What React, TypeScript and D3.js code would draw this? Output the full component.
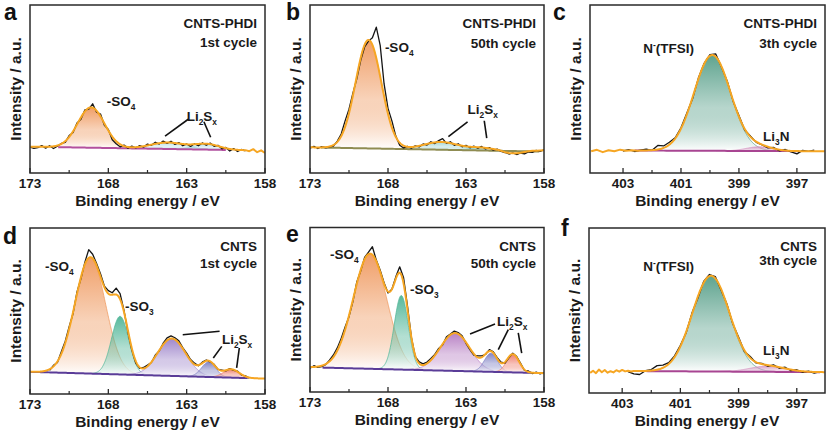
import React from "react";
import * as d3 from "d3";

// ---------------- axes / text ----------------
const sulfurDomain = [173, 158];
const nitrogenDomain = [404.14, 396.03];
const sulfurTicks = [173, 168, 163, 158];
const sulfurMinorTicks = [170.5, 165.5, 160.5];
const nitrogenTicks = [403, 401, 399, 397];
const nitrogenMinorTicks = [402, 400, 398];
const xAxisTitle = "Binding energy / eV";
const yAxisTitle = "Intensity / a.u.";
const panelLetters = ["a", "b", "c", "d", "e", "f"];
const sampleNames = ["CNTS-PHDI", "CNTS-PHDI", "CNTS-PHDI", "CNTS", "CNTS", "CNTS"];
const cycleNames = ["1st cycle", "50th cycle", "3th cycle", "1st cycle", "50th cycle", "3th cycle"];

// ---------------- panel a : CNTS-PHDI S 2p, 1st cycle ----------------
const rawStartA = 173;
const rawStepA = 0.25;
const rawA = [15.4, 14.7, 15.1, 16.3, 14.8, 16.2, 14.6, 15.9, 17.6, 18.2, 22.3, 24.1, 29.8, 32.0, 37.5, 38.0, 41.2, 36.2, 35.1, 28.4, 25.9, 19.8, 17.4, 15.6, 16.6, 14.8, 16.0, 14.9, 16.3, 15.4, 17.2, 16.5, 18.3, 17.2, 19.0, 17.6, 18.9, 17.0, 18.1, 16.2, 17.3, 15.8, 17.4, 16.2, 17.9, 16.5, 17.8, 15.9, 16.5, 14.4, 15.2, 13.1, 14.5, 12.8, 14.0, 13.2];
const fitCentersA = [169.1, 164.2, 161.7];
const fitHeightsA = [24, 3.8, 3.2];
const fitSigmasA = [0.85, 1.1, 0.8];
const backgroundA = [[172.0, 15.5], [159.0, 13.5]];
const fitTailStartA = 159.25;
const fitTailA = [13.6, 13.0, 14.2, 12.4, 13.5, 11.9];
const labelsA = [{ text: "-SO_4", e: 168.1, v: 39.9 }, { text: "Li_2S_x", e: 163.0, v: 31.0 }];
const leadersA = [[164.38, 22.0, 162.9, 32.0], [161.9, 30.5, 161.47, 21.25]];

// ---------------- panel b : CNTS-PHDI S 2p, 50th cycle ----------------
const rawStartB = 173;
const rawStepB = 0.25;
const rawB = [14.8, 15.9, 14.6, 15.7, 14.9, 15.6, 16.0, 19.0, 23.2, 31.0, 38.0, 47.5, 56.0, 67.0, 75.0, 78.5, 80.5, 86.8, 76.0, 53.0, 38.5, 31.0, 22.0, 16.5, 14.9, 15.8, 14.8, 16.2, 15.5, 17.3, 16.6, 18.6, 17.5, 19.3, 20.5, 17.6, 18.6, 16.5, 17.4, 15.6, 16.5, 15.0, 16.0, 14.7, 15.8, 14.3, 15.1, 13.6, 14.2, 12.9, 12.2, 11.3, 12.0, 11.0, 11.9, 11.4, 12.6, 12.3, 13.5, 12.9, 13.8];
const fitCentersB = [169.25, 164.6, 162.0];
const fitHeightsB = [64.5, 4.6, 1.5];
const fitSigmasB = [0.83, 1.1, 0.8];
const backgroundB = [[172.5, 15.2], [158.5, 12.8]];
const fitTailStartB = 161.25;
const fitTailB = [14.3, 13.9, 13.2, 12.4, 11.9, 11.7, 11.8, 12.1, 12.5, 12.9, 13.2, 13.3, 13.4, 13.5];
const labelsB = [{ text: "-SO_4", e: 168.2, v: 72.0 }, { text: "Li_2S_x", e: 162.9, v: 35.1 }];
const leadersB = [[164.13, 21.6, 162.9, 30.5], [161.83, 31.1, 161.67, 20.7]];

// ---------------- panel c : CNTS-PHDI N 1s ----------------
const rawStartC = 403.0;
const rawStepC = 0.2;
const rawC = [13.1, 13.9, 12.8, 13.6, 14.2, 13.5, 16.4, 16.1, 18.3, 21.0, 26.9, 35.6, 44.2, 56.5, 65.3, 70.5, 70.9, 63.0, 54.5, 42.6, 34.3, 25.6, 21.9, 18.2, 16.7, 15.0, 15.2, 13.2, 14.0, 12.6, 11.4, 13.5, 12.9, 13.6];
const fitCentersC = [399.92, 398.3];
const fitHeightsC = [57, 2.5];
const fitSigmasC = [0.63, 0.45];
const backgroundC = [[402.8, 13.4], [396.9, 13.0]];
const fitTailStartC = 404.1;
const fitTailC = [13.0, 13.8, 12.4, 13.5, 12.9, 13.9, 13.2, 13.6, 13.3];
const labelsC = [{ text: "N^-(TFSI)", e: 402.3, v: 71.7 }, { text: "Li_3N", e: 398.17, v: 19.0 }];

// ---------------- panel d : CNTS S 2p, 1st cycle ----------------
const rawStartD = 171.75;
const rawStepD = 0.25;
const rawD = [14.2, 17.3, 19.0, 25.5, 31.8, 40.6, 48.5, 61.5, 69.4, 79.3, 87.0, 84.2, 78.6, 72.5, 65.0, 62.3, 61.0, 63.8, 60.5, 50.4, 37.2, 26.4, 18.6, 15.5, 16.0, 17.4, 19.0, 23.5, 25.9, 30.6, 33.8, 35.0, 33.9, 32.0, 27.9, 24.6, 20.8, 18.6, 17.0, 19.2, 20.5, 19.4, 17.9, 14.8, 14.4, 13.9, 15.3, 14.2, 13.8, 11.4, 10.9, 9.6];
const fitCentersD = [169.15, 167.25, 163.95, 161.6, 160.15];
const fitHeightsD = [70, 35, 22.5, 9, 5];
const fitSigmasD = [0.97, 0.55, 0.9, 0.45, 0.5];
const backgroundD = [[171.7, 13.0], [159.2, 9.6]];
const labelsD = [{ text: "-SO_4", e: 172.04, v: 74.3 }, { text: "-SO_3", e: 166.94, v: 50.0 }, { text: "Li_2S_x", e: 160.75, v: 30.1 }];
const leadersD = [[163.25, 35.7, 160.9, 37.8], [161.3, 21.7, 160.76, 28.7], [159.81, 15.7, 159.64, 27.7]];

// ---------------- panel e : CNTS S 2p, 50th cycle ----------------
const rawStartE = 173;
const rawStepE = 0.25;
const rawE = [14.4, 16.0, 15.0, 15.4, 16.6, 19.3, 22.5, 26.8, 32.6, 39.5, 45.8, 55.0, 66.9, 73.5, 81.8, 85.0, 88.3, 80.2, 74.0, 66.5, 60.2, 62.5, 70.0, 76.1, 69.4, 52.3, 33.2, 21.5, 18.3, 17.1, 18.2, 20.4, 22.9, 26.5, 28.6, 33.5, 35.2, 37.0, 36.1, 34.2, 29.6, 25.8, 22.4, 21.9, 22.0, 22.8, 25.8, 24.4, 20.9, 18.2, 17.5, 20.8, 23.6, 21.6, 17.5, 13.1, 12.8, 11.2, 12.1, 11.0, 11.8];
const fitCentersE = [169.15, 167.15, 163.7, 161.4, 160.0];
const fitHeightsE = [70, 45, 23, 11.3, 11];
const fitSigmasE = [1.08, 0.45, 0.95, 0.42, 0.4];
const backgroundE = [[172.9, 15.0], [158.2, 11.5]];
const labelsE = [{ text: "-SO_4", e: 171.72, v: 80.9 }, { text: "-SO_3", e: 166.59, v: 59.6 }, { text: "Li_2S_x", e: 161.01, v: 40.1 }];
const leadersE = [[162.74, 35.3, 161.14, 41.3], [160.93, 25.7, 160.29, 37.9], [159.43, 23.7, 159.65, 35.9]];

// ---------------- panel f : CNTS N 1s ----------------
const rawStartF = 402.8;
const rawStepF = 0.2;
const rawF = [12.9, 11.6, 11.2, 13.5, 14.2, 16.6, 16.9, 18.4, 22.5, 28.9, 36.5, 48.6, 57.4, 67.6, 71.8, 70.6, 62.2, 54.0, 42.0, 33.9, 25.2, 22.1, 18.2, 18.0, 16.2, 17.1, 15.0, 15.6, 13.5, 14.1, 12.5, 13.2, 12.1, 12.9];
const fitCentersF = [399.95, 398.0];
const fitHeightsF = [58, 3.5];
const fitSigmasF = [0.64, 0.6];
const backgroundF = [[402.6, 13.3], [396.8, 12.7]];
const fitTailStartF = 404.1;
const fitTailF = [12.2, 13.5, 12.0, 14.2, 12.6, 13.9, 12.3, 13.2, 12.5, 13.8, 12.9, 14.0, 13.1, 13.5, 13.0, 13.3];
const labelsF = [{ text: "N^-(TFSI)", e: 402.28, v: 74.1 }, { text: "Li_3N", e: 398.16, v: 22.8 }];

// ---------------- styling ----------------
const FONT = "'Liberation Sans', Arial, Helvetica, sans-serif";
const ORANGE = "#f6a623";
const SO4 = "#ef995f";
const SO3 = "#4fb597";
const NTF = "#579f89";
const LI3N = "#d495c2";

type Tail = { start: number; step: number; values: number[] } | null;

const panels = [
  {
    letter: panelLetters[0], sample: sampleNames[0], cycle: cycleNames[0],
    box: { l: 30, t: 5, r: 265, b: 173 }, letterX: 4, letterY: 20, corner: [22.5, 42],
    domain: sulfurDomain, ticks: sulfurTicks, minor: sulfurMinorTicks,
    raw: { start: rawStartA, step: rawStepA, values: rawA },
    c: fitCentersA, h: fitHeightsA, s: fitSigmasA,
    colors: [SO4, "#8fd0d8", "#8fd0d8"], ops: [0.95, 0.55, 0.55],
    background: backgroundA, bgRange: [171.2, 160.5], bgColor: "#b3509e",
    fitRange: [173, 159.3], tailLeft: null as Tail, tailRight: { start: fitTailStartA, step: 0.25, values: fitTailA } as Tail,
    labels: labelsA, leaders: leadersA,
  },
  {
    letter: panelLetters[1], sample: sampleNames[1], cycle: cycleNames[1],
    box: { l: 310, t: 5, r: 544, b: 173 }, letterX: 286, letterY: 20, corner: [22.5, 42.5],
    domain: sulfurDomain, ticks: sulfurTicks, minor: sulfurMinorTicks,
    raw: { start: rawStartB, step: rawStepB, values: rawB },
    c: fitCentersB, h: fitHeightsB, s: fitSigmasB,
    colors: [SO4, "#86c8c4", "#86c8c4"], ops: [0.95, 0.7, 0.7],
    background: backgroundB, bgRange: [172.3, 158.3], bgColor: "#8f8c52",
    fitRange: [173, 161.25], tailLeft: null as Tail, tailRight: { start: fitTailStartB, step: 0.25, values: fitTailB } as Tail,
    labels: labelsB, leaders: leadersB,
  },
  {
    letter: panelLetters[2], sample: sampleNames[2], cycle: cycleNames[2],
    box: { l: 590, t: 5, r: 825, b: 173 }, letterX: 553, letterY: 20, corner: [22.5, 43],
    domain: nitrogenDomain, ticks: nitrogenTicks, minor: nitrogenMinorTicks,
    raw: { start: rawStartC, step: rawStepC, values: rawC },
    c: fitCentersC, h: fitHeightsC, s: fitSigmasC,
    colors: [NTF, LI3N], ops: [0.95, 0.9],
    background: backgroundC, bgRange: [402.6, 397.0], bgColor: "#a84592",
    fitRange: [402.4, 396.03], tailLeft: { start: fitTailStartC, step: 0.2, values: fitTailC } as Tail, tailRight: null as Tail,
    labels: labelsC, leaders: [] as number[][],
  },
  {
    letter: panelLetters[3], sample: sampleNames[3], cycle: cycleNames[3],
    box: { l: 30, t: 228, r: 265, b: 394 }, letterX: 3, letterY: 244, corner: [23, 40],
    domain: sulfurDomain, ticks: sulfurTicks, minor: sulfurMinorTicks,
    raw: { start: rawStartD, step: rawStepD, values: rawD },
    c: fitCentersD, h: fitHeightsD, s: fitSigmasD,
    colors: [SO4, SO3, "#9c82c9", "#7d7fc0", "#ee7a68"], ops: [0.95, 0.95, 0.95, 0.95, 0.95],
    background: backgroundD, bgRange: [173, 159.1], bgColor: "#5a3c98",
    fitRange: [173, 158], tailLeft: null as Tail, tailRight: null as Tail,
    labels: labelsD, leaders: leadersD,
  },
  {
    letter: panelLetters[4], sample: sampleNames[4], cycle: cycleNames[4],
    box: { l: 310, t: 227.5, r: 544, b: 392 }, letterX: 286, letterY: 242, corner: [23.5, 40.5],
    domain: sulfurDomain, ticks: sulfurTicks, minor: sulfurMinorTicks,
    raw: { start: rawStartE, step: rawStepE, values: rawE },
    c: fitCentersE, h: fitHeightsE, s: fitSigmasE,
    colors: [SO4, SO3, "#b57cc2", "#7c7ec3", "#ee7868"], ops: [0.95, 0.95, 0.95, 0.95, 0.95],
    background: backgroundE, bgRange: [172.2, 158.8], bgColor: "#5a3c98",
    fitRange: [173, 158], tailLeft: null as Tail, tailRight: null as Tail,
    labels: labelsE, leaders: leadersE,
  },
  {
    letter: panelLetters[5], sample: sampleNames[5], cycle: cycleNames[5],
    box: { l: 589, t: 228, r: 825, b: 393 }, letterX: 561, letterY: 236, corner: [23, 37],
    domain: nitrogenDomain, ticks: nitrogenTicks, minor: nitrogenMinorTicks,
    raw: { start: rawStartF, step: rawStepF, values: rawF },
    c: fitCentersF, h: fitHeightsF, s: fitSigmasF,
    colors: [NTF, LI3N], ops: [0.95, 0.9],
    background: backgroundF, bgRange: [402.6, 396.2], bgColor: "#a84592",
    fitRange: [402.6, 396.03], tailLeft: { start: fitTailStartF, step: 0.1, values: fitTailF } as Tail, tailRight: null as Tail,
    labels: labelsF, leaders: [] as number[][],
  },
];

// Gaussian line shape of a fitted component
const gauss = (e: number, c: number, h: number, s: number) => h * Math.exp(-0.5 * ((e - c) / s) ** 2);

function Chem({ text, x, y, size }: { text: string; x: number; y: number; size: number }) {
  const parts: { t: string; k: string }[] = [];
  for (let i = 0; i < text.length; i++) {
    const ch = text[i];
    if ((ch === "_" || ch === "^") && i + 1 < text.length) {
      parts.push({ t: text[i + 1], k: ch === "_" ? "sub" : "sup" });
      i++;
    } else if (parts.length && parts[parts.length - 1].k === "n") {
      parts[parts.length - 1].t += ch;
    } else parts.push({ t: ch, k: "n" });
  }
  let cur = 0;
  return (
    <text x={x} y={y} fontSize={size} fontWeight="bold" fontFamily={FONT} fill="#1a1a1a">
      {parts.map((p, i) => {
        const target = p.k === "sub" ? 4 : p.k === "sup" ? -5 : 0;
        const dy = target - cur;
        cur = target;
        return (
          <tspan key={i} dy={dy} fontSize={p.k === "n" ? size : size * 0.62}>
            {p.t}
          </tspan>
        );
      })}
    </text>
  );
}

function Panel({ p }: { p: (typeof panels)[number] }) {
  const { l, t, r, b } = p.box;
  const x = d3.scaleLinear().domain(p.domain).range([l, r]);
  const y = d3.scaleLinear().domain([0, 100]).range([b, t]);
  const [[e1, v1], [e2, v2]] = p.background;
  const bg = d3.scaleLinear().domain([e1, e2]).range([v1, v2]);
  const envelope = (e: number) => bg(e) + p.c.reduce((acc, c, i) => acc + gauss(e, c, p.h[i], p.s[i]), 0);
  const [fHi, fLo] = p.fitRange;
  const fitE = d3.range(fHi, fLo - 1e-6, -0.02);
  const seq = (tl: Tail): [number, number][] => (tl ? tl.values.map((v, i) => [tl.start - i * tl.step, v] as [number, number]) : []);
  const orangePts: [number, number][] = [
    ...seq(p.tailLeft),
    ...fitE.map((e) => [e, envelope(e)] as [number, number]),
    ...seq(p.tailRight),
  ];
  const rawPts = seq(p.raw as Tail);
  const line = d3.line<[number, number]>().x((d) => x(d[0])).y((d) => y(d[1]));
  const clipId = `clip-${p.letter}`;
  const bgLine = line(d3.range(p.bgRange[0], p.bgRange[1] - 1e-6, -0.1).concat([p.bgRange[1]]).map((e) => [e, bg(e)] as [number, number]));

  return (
    <g>
      <defs>
        <clipPath id={clipId}>
          <rect x={l} y={t} width={r - l} height={b - t} />
        </clipPath>
        {p.colors.map((col, i) => (
          <linearGradient key={i} id={`grad-${p.letter}-${i}`} x1="0" y1="0" x2="0" y2="1">
            <stop offset="0" stopColor={col} stopOpacity={p.ops[i]} />
            <stop offset="0.55" stopColor={col} stopOpacity={p.ops[i] * 0.45} />
            <stop offset="1" stopColor="#ffffff" stopOpacity={0.9} />
          </linearGradient>
        ))}
      </defs>
      <g clipPath={`url(#${clipId})`}>
        {p.c.map((c, i) => {
          const lo = Math.max(c - 3.3 * p.s[i], fLo);
          const hi = Math.min(c + 3.3 * p.s[i], fHi);
          const es = d3.range(hi, lo, -0.02).concat([lo]);
          const area = d3
            .area<number>()
            .x((e) => x(e))
            .y0((e) => y(bg(e)))
            .y1((e) => y(bg(e) + gauss(e, c, p.h[i], p.s[i])));
          const top = d3
            .line<number>()
            .x((e) => x(e))
            .y((e) => y(bg(e) + gauss(e, c, p.h[i], p.s[i])));
          return (
            <g key={i}>
              <path d={area(es) || ""} fill={`url(#grad-${p.letter}-${i})`} />
              <path d={top(es) || ""} fill="none" stroke={p.colors[i]} strokeOpacity={0.75} strokeWidth={1} />
            </g>
          );
        })}
        <path d={bgLine || ""} fill="none" stroke={p.bgColor} strokeWidth={2} />
        <path d={line(rawPts) || ""} fill="none" stroke="#151515" strokeWidth={1.3} strokeLinejoin="round" />
        <path d={line(orangePts) || ""} fill="none" stroke={ORANGE} strokeWidth={2} strokeLinejoin="round" />
      </g>
      <rect x={l} y={t} width={r - l} height={b - t} fill="none" stroke="#2a2a2a" strokeWidth={1.5} />
      {p.ticks.map((tk) => (
        <g key={`t${tk}`}>
          <line x1={x(tk)} x2={x(tk)} y1={b} y2={b - 5} stroke="#2a2a2a" strokeWidth={1.3} />
          <text x={x(tk)} y={b + 15} textAnchor="middle" fontSize={13.5} fontWeight="bold" fontFamily={FONT} fill="#1a1a1a">
            {tk}
          </text>
        </g>
      ))}
      {p.minor.map((tk) => (
        <line key={`m${tk}`} x1={x(tk)} x2={x(tk)} y1={b} y2={b - 3} stroke="#2a2a2a" strokeWidth={1.2} />
      ))}
      <text x={(l + r) / 2} y={b + 33} textAnchor="middle" fontSize={15.5} fontWeight="bold" fontFamily={FONT} fill="#1a1a1a">
        {xAxisTitle}
      </text>
      <text
        transform={`translate(${l - 9},${(t + b) / 2}) rotate(-90)`}
        textAnchor="middle"
        fontSize={15.5}
        fontWeight="bold"
        fontFamily={FONT}
        fill="#1a1a1a"
      >
        {yAxisTitle}
      </text>
      <text x={p.letterX} y={p.letterY} fontSize={23} fontWeight="bold" fontFamily={FONT} fill="#111">
        {p.letter}
      </text>
      <text x={r - 8} y={t + p.corner[0]} textAnchor="end" fontSize={13.5} fontWeight="bold" fontFamily={FONT} fill="#1a1a1a">
        {p.sample}
      </text>
      <text x={r - 8} y={t + p.corner[1]} textAnchor="end" fontSize={13.5} fontWeight="bold" fontFamily={FONT} fill="#1a1a1a">
        {p.cycle}
      </text>
      {p.labels.map((lb, i) => (
        <Chem key={i} text={lb.text} x={x(lb.e)} y={y(lb.v)} size={13.5} />
      ))}
      {p.leaders.map((ld, i) => (
        <line key={i} x1={x(ld[0])} y1={y(ld[1])} x2={x(ld[2])} y2={y(ld[3])} stroke="#111" strokeWidth={1.6} />
      ))}
    </g>
  );
}

export default function App() {
  return (
    <svg
      width={831}
      height={438}
      viewBox="0 0 831 438"
      style={{ position: "absolute", left: 0, top: 0, background: "#ffffff" }}
    >
      <rect x={0} y={0} width={831} height={438} fill="#ffffff" />
      {panels.map((p) => (
        <Panel key={p.letter} p={p} />
      ))}
    </svg>
  );
}
